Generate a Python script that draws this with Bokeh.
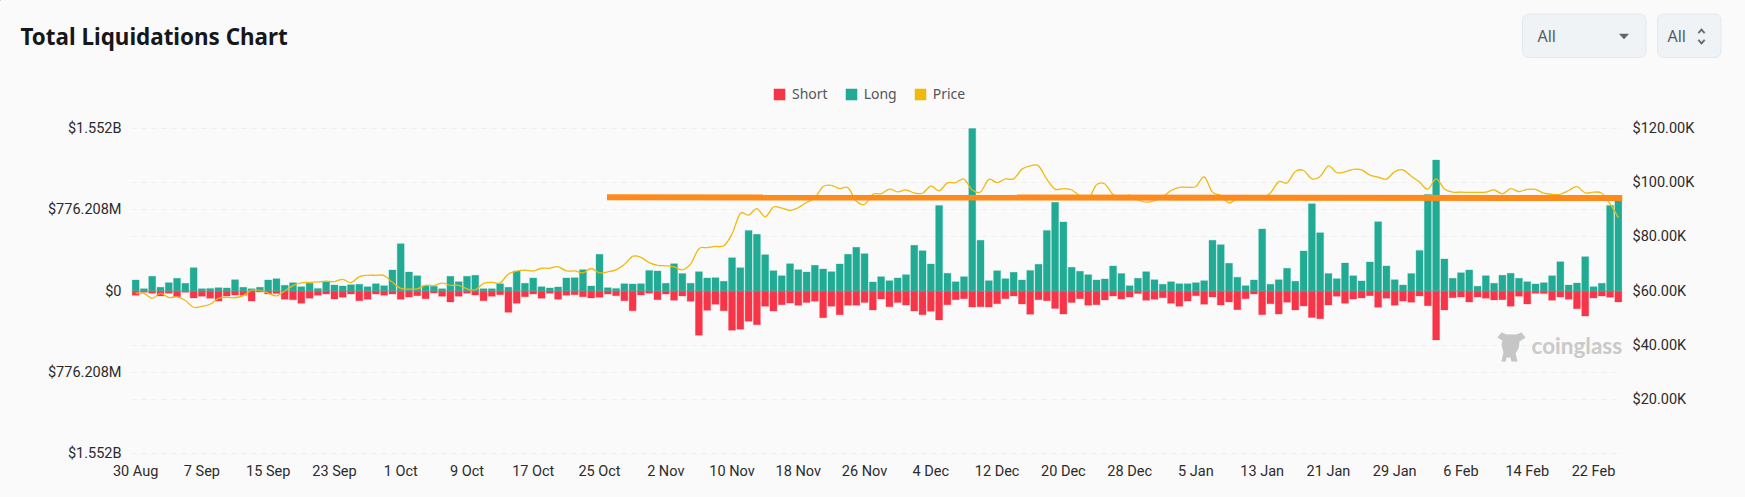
import numpy as np
from bokeh.plotting import figure
from bokeh.layouts import column
from bokeh.models import (Range1d, LinearAxis, FixedTicker, Grid, Span, Legend, LegendItem,
                          Label, PolyAnnotation)
from bokeh.embed import file_html
from bokeh.resources import INLINE

# values in $M
long_vals = [105,22,140,35,80,121,73,223,22,25,32,29,108,35,22,35,105,118,54,80,41,73,25,86,57,48,60,64,41,70,
 51,201,452,181,146,51,45,22,140,89,140,150,22,22,70,35,191,73,124,41,29,38,124,127,204,48,350,32,25,70,
 67,70,197,191,73,261,166,73,185,124,127,92,318,223,579,541,347,194,146,261,204,181,245,210,185,258,350,417,357,86,
 137,99,124,156,436,385,258,818,169,89,137,1552,484,99,194,118,178,105,197,255,579,847,659,226,188,156,105,115,239,166,
 51,121,185,108,64,89,70,70,80,99,484,443,264,131,51,105,592,64,108,217,92,382,834,557,166,118,267,146,96,277,
 662,239,108,57,166,388,923,1251,306,121,175,201,45,146,73,150,169,121,89,67,80,146,280,57,76,328,41,73,818,876]
short_vals = [41,13,22,48,22,54,13,67,51,70,96,48,38,41,96,10,29,25,80,83,118,70,41,29,76,60,29,92,80,29,
 41,29,80,57,45,73,19,51,105,51,22,38,92,51,35,204,118,54,29,70,22,80,41,35,54,67,60,29,45,92,
 188,38,22,83,29,89,48,99,423,185,127,188,376,366,290,322,146,191,131,115,137,111,99,255,146,226,137,137,111,181,
 76,150,111,134,191,226,194,277,131,83,73,153,150,153,121,73,48,124,223,83,92,166,220,111,73,137,131,86,48,76,
 57,25,89,80,64,118,146,96,45,127,57,134,105,178,73,29,226,121,220,108,181,143,252,264,134,51,118,76,67,45,
 156,70,137,96,108,48,140,468,181,64,57,105,57,70,86,83,146,51,124,22,25,89,57,80,169,239,67,48,60,105]
# values in $K
price_vals = [59.2,59.1,57.3,59.1,57.6,57.8,56.5,54.0,54.3,55.1,57.3,57.7,57.5,58.3,60.3,60.2,59.2,58.2,60.0,62.0,63.0,63.2,63.4,63.6,63.5,64.3,63.1,65.3,65.8,65.8,
 65.7,63.2,61.0,60.7,60.8,62.1,62.0,62.9,62.1,62.1,60.8,60.4,62.8,63.2,63.0,66.3,67.3,67.7,67.4,68.4,68.4,69.0,67.4,67.4,66.7,68.3,66.7,67.1,67.8,69.8,
 72.8,72.4,70.5,69.5,69.3,68.9,67.8,70.0,75.6,76.0,76.5,76.7,81.1,88.6,88.0,90.4,87.4,91.0,90.6,89.8,90.8,92.7,94.4,98.6,99.0,97.8,98.1,93.2,92.0,95.7,
 95.9,97.6,96.6,97.3,96.2,96.1,98.7,97.0,99.9,100.0,101.3,97.3,96.6,101.2,100.0,101.4,101.4,105.0,106.2,106.2,101.3,97.6,97.8,97.3,95.1,94.0,99.2,99.5,95.6,94.7,
 95.4,93.6,92.8,93.4,94.8,97.1,98.3,98.3,98.6,102.1,96.5,95.3,92.5,94.1,94.3,94.3,94.3,96.2,100.4,99.9,104.1,104.5,101.4,102.3,106.2,103.7,104.0,104.9,104.7,102.8,
 102.0,101.3,104.1,104.7,102.4,100.2,97.6,101.4,97.7,96.5,96.5,96.4,96.4,96.5,97.3,95.9,97.8,96.7,97.5,97.5,96.1,95.7,95.7,97.1,98.5,96.2,96.5,96.1,92.2,87.1]
day_index = list(range(len(long_vals)))
short_neg = [-v for v in short_vals]

x_tick_pos = list(range(0, 180, 8))
x_tick_labels = ["30 Aug","7 Sep","15 Sep","23 Sep","1 Oct","9 Oct","17 Oct","25 Oct","2 Nov","10 Nov","18 Nov",
                 "26 Nov","4 Dec","12 Dec","20 Dec","28 Dec","5 Jan","13 Jan","21 Jan","29 Jan","6 Feb","14 Feb","22 Feb"]
left_ticks = [-1552.416, -776.208, 0, 776.208, 1552.416]
left_labels = ["$1.552B", "$776.208M", "$0", "$776.208M", "$1.552B"]
right_ticks = [0, 20, 40, 60, 80, 100, 120]
right_labels = ["", "$20.00K", "$40.00K", "$60.00K", "$80.00K", "$100.00K", "$120.00K"]
annot_x = [56.9, 179.5]
annot_y = [94.6, 94.3]

BG = "#fafafa"
LONG = "#22ab94"
SHORT = "#f73549"
PRICE = "#f0b90b"
TICK = "#2b2b2b"
STRIP_H = 118

# ---- main chart (one pixel of slack above and below so the outer gridlines show whole)
left_pad = 1552.416 / 162.5
right_pad = 120 / 325
p = figure(width=1745, height=497 - STRIP_H, output_backend="svg", toolbar_location=None,
           x_range=Range1d(-0.5, 179.5), y_range=Range1d(-1552.416 - left_pad, 1552.416 + left_pad),
           background_fill_color=BG, border_fill_color=BG, outline_line_color=None,
           min_border_left=131, min_border_right=123, min_border_top=9, min_border_bottom=43,
           frame_align=False)
p.extra_y_ranges = {"price": Range1d(-right_pad, 120 + right_pad)}

xa = p.xaxis[0]
xa.ticker = FixedTicker(ticks=x_tick_pos)
xa.major_label_overrides = dict(zip(x_tick_pos, x_tick_labels))
ya = p.yaxis[0]
ya.ticker = FixedTicker(ticks=left_ticks)
ya.major_label_overrides = dict(zip(left_ticks, left_labels))
ra = LinearAxis(y_range_name="price", ticker=FixedTicker(ticks=right_ticks))
ra.major_label_overrides = dict(zip(right_ticks, right_labels))
p.add_layout(ra, "right")
for a in (xa, ya, ra):
    a.axis_line_color = None
    a.major_tick_line_color = None
    a.minor_tick_line_color = None
    a.major_tick_out = 0
    a.major_tick_in = 0
    a.minor_tick_out = 0
    a.minor_tick_in = 0
    a.major_label_text_font = "Roboto"
    a.major_label_text_font_size = "14.5px"
    a.major_label_text_color = TICK
    a.major_label_standoff = 10
xa.major_label_standoff = 8

p.xgrid.visible = False
p.ygrid.ticker = FixedTicker(ticks=left_ticks)
p.ygrid.grid_line_color = "#efefef"
p.ygrid.grid_line_dash = "5 5"
p.add_layout(Grid(dimension=1, ticker=FixedTicker(ticks=right_ticks), y_range_name="price",
                  grid_line_color="#efefef", grid_line_dash="5 5"))

p.vbar(x=day_index, top=short_neg, bottom=0, width=0.84, fill_color=SHORT,
       line_color=SHORT, line_alpha=0.3, line_width=1)
p.vbar(x=day_index, top=long_vals, bottom=0, width=0.84, fill_color=LONG,
       line_color=LONG, line_alpha=0.3, line_width=1)
p.add_layout(Span(location=0, dimension="width", line_color="#9a9a9a", line_alpha=0.6, line_width=1))

# smooth price curve: Bezier segments between the read daily values
xs = np.array(day_index, dtype=float)
ys = np.array(price_vals, dtype=float)
slope = np.gradient(ys)
p.bezier(x0=xs[:-1], y0=ys[:-1], x1=xs[1:], y1=ys[1:],
         cx0=xs[:-1] + 1/3, cy0=ys[:-1] + slope[:-1]/3,
         cx1=xs[1:] - 1/3, cy1=ys[1:] - slope[1:]/3,
         y_range_name="price", line_color=PRICE, line_width=1.3)
p.line(annot_x, annot_y, y_range_name="price", line_color="#ff8a1c", line_width=6)

def canvas_y(y):
    return y - STRIP_H

p.add_layout(Label(x=1531, y=canvas_y(345), x_units="canvas", y_units="canvas", text="coinglass", text_font="Lato",
                   text_font_size="22.5px", text_color="#c9c9c9", text_font_style="bold", text_baseline="middle"))
logo = [(1497, 337), (1501, 332), (1506, 334), (1516, 334), (1521, 332), (1525, 337), (1519, 341),
        (1518, 348), (1515, 353), (1517, 361), (1511, 361), (1510, 357), (1506, 357), (1505, 361),
        (1501, 361), (1503, 352), (1501, 344), (1502, 340)]
p.add_layout(PolyAnnotation(xs=[a for a, b in logo], ys=[canvas_y(b) for a, b in logo], xs_units="canvas",
                            ys_units="canvas", fill_color="#c6c6c6", fill_alpha=1, line_color="#c6c6c6",
                            line_width=0.5, level="overlay"))

# ---- header strip: page pixel coordinates
s = figure(width=1745, height=STRIP_H, output_backend="svg", toolbar_location=None,
           x_range=Range1d(0, 1745), y_range=Range1d(STRIP_H, 0), x_axis_type=None, y_axis_type=None,
           background_fill_color=BG, border_fill_color=BG, outline_line_color=None,
           min_border_left=0, min_border_right=0, min_border_top=0, min_border_bottom=0,
           frame_align=False)
s.xgrid.visible = False
s.ygrid.visible = False

s.quad(left=[1522, 1657], right=[1645.5, 1720.5], top=[13.5, 13.5], bottom=[57, 57], fill_color="#eff3f6",
       line_color="#e4e8eb", line_width=1, border_radius=6)
def label(x, y, t, size, color, style="normal", font="Noto Sans"):
    s.add_layout(Label(x=x, y=y, text=t, text_font=font, text_font_size=size, text_color=color,
                       text_font_style=style, text_baseline="middle"))
label(20, 36, "Total Liquidations Chart", "22.4px", "#15171a", style="bold")
label(1537, 35.5, "All", "16px", "#555c63")
label(1667, 35.5, "All", "16px", "#555c63")
caret = [(1619, 33.5), (1628, 33.5), (1623.5, 38.5)]
up = [(1697.5, 32), (1701, 28), (1704.5, 32), (1703.5, 33), (1701, 30.2), (1698.5, 33)]
down = [(1697.5, 40), (1701, 44), (1704.5, 40), (1703.5, 39), (1701, 41.8), (1698.5, 39)]
for pts in (caret, up, down):
    s.patch([a for a, b in pts], [b for a, b in pts], fill_color="#5f666d", line_color="#5f666d", line_width=0.5)

off = [-100]   # legend keys only: the single bar sits off-range
r_short = s.vbar(x=off, top=off, bottom=off, width=1, fill_color=SHORT, line_color=SHORT, line_alpha=0.3)
r_long = s.vbar(x=off, top=off, bottom=off, width=1, fill_color=LONG, line_color=LONG, line_alpha=0.3)
r_price = s.vbar(x=off, top=off, bottom=off, width=1, fill_color=PRICE, line_color=PRICE, line_alpha=0.3)
legend = Legend(items=[LegendItem(label="Short", renderers=[r_short]),
                       LegendItem(label="Long", renderers=[r_long]),
                       LegendItem(label="Price", renderers=[r_price])],
                orientation="horizontal", location=(772, 15), background_fill_alpha=0, border_line_color=None,
                glyph_width=14, glyph_height=14, label_standoff=6, spacing=16, padding=0, margin=0,
                label_text_font="Noto Sans", label_text_font_size="14px", label_text_color="#555555")
s.add_layout(legend, "center")

layout = column(s, p, spacing=0)
layout.styles = {"background": BG}
html = file_html(layout, INLINE)
html = html.replace("</head>", f"<style>html,body{{background:{BG} !important;overflow:hidden}}</style></head>", 1)
open("out.html", "w").write(html)
